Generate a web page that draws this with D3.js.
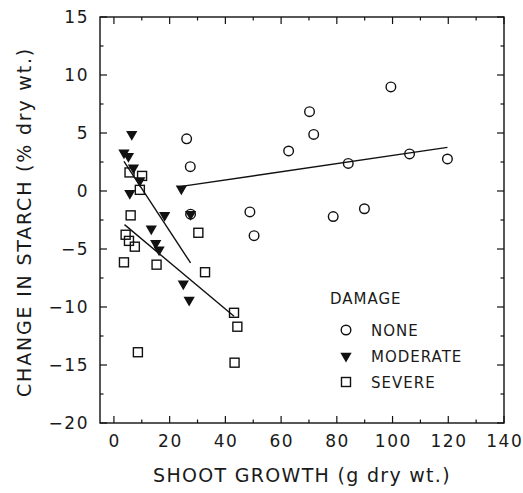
<!DOCTYPE html>
<html>
<head>
<meta charset="utf-8">
<script src="https://cdn.jsdelivr.net/npm/d3@7"></script>
<style>
  body { margin: 0; background: #fff; }
  text { font-family: "DejaVu Sans", sans-serif; fill: #1a1a1a; }
</style>
</head>
<body>
<svg id="chart"></svg>
<script>
// Data
const noneX = [26.1, 27.4, 27.5, 48.8, 50.3, 62.7, 70.2, 71.7, 78.7, 84.1, 89.9, 99.4, 106.1, 119.7];
const noneY = [4.5, 2.1, -2.0, -1.8, -3.85, 3.45, 6.84, 4.88, -2.2, 2.38, -1.53, 8.97, 3.2, 2.76];

const moderateX = [6.4, 3.6, 5.2, 7.0, 9.3, 5.7, 24.2, 18.2, 27.5, 13.4, 15.0, 16.2, 24.9, 27.0];
const moderateY = [4.9, 3.3, 3.0, 2.0, 0.9, -0.2, 0.2, -2.1, -2.0, -3.25, -4.5, -5.06, -8.0, -9.4];

const severeX = [5.6, 10.1, 9.3, 6.0, 4.2, 5.4, 7.5, 3.6, 15.3, 30.3, 32.7, 43.1, 44.3, 8.6, 43.3];
const severeY = [1.6, 1.3, 0.1, -2.1, -3.77, -4.3, -4.8, -6.15, -6.35, -3.6, -7.0, -10.5, -11.7, -13.9, -14.8];

// fitted lines: [x1, y1, x2, y2]
const noneFit = [24.2, 0.4, 119.7, 3.76];
const moderateFit = [3.6, 2.55, 27.5, -6.2];
const severeFit = [3.8, -2.9, 43.1, -10.8];

const xTicks = [0, 20, 40, 60, 80, 100, 120, 140];
const xMinor = [10, 30, 50, 70, 90, 110, 130];
const yTicks = [-20, -15, -10, -5, 0, 5, 10, 15];
const yMinor = [-17.5, -12.5, -7.5, -2.5, 2.5, 7.5, 12.5];

const legendLabels = ["NONE", "MODERATE", "SEVERE"];

let width = 523;
let height = 493;
let margin = { top: 17, right: 19, bottom: 70, left: 100 };

let svg = d3.select("#chart")
    .attr("width", width)
    .attr("height", height);

let xScale = d3.scaleLinear()
    .domain([-5, 140])
    .range([margin.left, width - margin.right]);

let yScale = d3.scaleLinear()
    .domain([-20, 15])
    .range([height - margin.bottom, margin.top]);

let x0 = margin.left, x1 = width - margin.right;
let y0 = height - margin.bottom, y1 = margin.top;

// frame
svg.append("rect")
    .attr("x", x0).attr("y", y1)
    .attr("width", x1 - x0).attr("height", y0 - y1)
    .attr("fill", "none").attr("stroke", "#111").attr("stroke-width", 1.4);

// inward ticks on all four sides
let tickG = svg.append("g").attr("stroke", "#111").attr("stroke-width", 1.2);
function xTick(v, len) {
    tickG.append("line").attr("x1", xScale(v)).attr("x2", xScale(v)).attr("y1", y0).attr("y2", y0 - len);
    tickG.append("line").attr("x1", xScale(v)).attr("x2", xScale(v)).attr("y1", y1).attr("y2", y1 + len);
}
function yTick(v, len) {
    tickG.append("line").attr("y1", yScale(v)).attr("y2", yScale(v)).attr("x1", x0).attr("x2", x0 + len);
    tickG.append("line").attr("y1", yScale(v)).attr("y2", yScale(v)).attr("x1", x1).attr("x2", x1 - len);
}
xTicks.forEach(v => xTick(v, 7));
xMinor.forEach(v => xTick(v, 3.5));
yTicks.forEach(v => yTick(v, 7));
yMinor.forEach(v => yTick(v, 3.5));

// tick labels
svg.append("g").selectAll("text")
    .data(xTicks)
    .enter().append("text")
    .attr("x", d => xScale(d) + 0.75)
    .attr("y", y0 + 24)
    .attr("text-anchor", "middle")
    .style("font-size", "17px")
    .style("letter-spacing", "1.5px")
    .text(d => d);

svg.append("g").selectAll("text")
    .data(yTicks)
    .enter().append("text")
    .attr("x", 89)
    .attr("y", d => yScale(d) + 6)
    .attr("text-anchor", "end")
    .style("font-size", "17px")
    .style("letter-spacing", "1.5px")
    .text(d => d < 0 ? "\u2212" + Math.abs(d) : d);

// axis titles
svg.append("text")
    .attr("x", (x0 + x1) / 2)
    .attr("y", 482)
    .attr("text-anchor", "middle")
    .style("font-size", "19px")
    .style("letter-spacing", "1.3px")
    .text("SHOOT GROWTH (g dry wt.)");

svg.append("text")
    .attr("transform", "translate(31, 222) rotate(-90)")
    .attr("text-anchor", "middle")
    .style("font-size", "19px")
    .style("letter-spacing", "1.8px")
    .text("CHANGE IN STARCH (% dry wt.)");

// fitted lines
[noneFit, moderateFit, severeFit].forEach(f => {
    svg.append("line")
        .attr("x1", xScale(f[0])).attr("y1", yScale(f[1]))
        .attr("x2", xScale(f[2])).attr("y2", yScale(f[3]))
        .attr("stroke", "#111").attr("stroke-width", 1.4);
});

// markers
let tri = d3.symbol().type(d3.symbolTriangle).size(55);
function drawCircle(g, x, y) {
    g.append("circle").attr("cx", x).attr("cy", y).attr("r", 4.8)
        .attr("fill", "none").attr("stroke", "#111").attr("stroke-width", 1.4);
}
function drawTri(g, x, y) {
    g.append("path").attr("d", tri)
        .attr("transform", `translate(${x},${y}) rotate(180)`)
        .attr("fill", "#111");
}
function drawSquare(g, x, y) {
    g.append("rect").attr("x", x - 4.5).attr("y", y - 4.5).attr("width", 9).attr("height", 9)
        .attr("fill", "none").attr("stroke", "#111").attr("stroke-width", 1.4);
}

let marks = svg.append("g");
severeX.forEach((x, i) => drawSquare(marks, xScale(x), yScale(severeY[i])));
noneX.forEach((x, i) => drawCircle(marks, xScale(x), yScale(noneY[i])));
moderateX.forEach((x, i) => drawTri(marks, xScale(x), yScale(moderateY[i])));

// legend
let lg = svg.append("g");
lg.append("text").attr("x", 330).attr("y", 304)
    .style("font-size", "15px").style("letter-spacing", "1px").text("DAMAGE");
let drawers = [drawCircle, drawTri, drawSquare];
legendLabels.forEach((lab, i) => {
    let cy = 330 + i * 26;
    drawers[i](lg, 346, cy);
    lg.append("text").attr("x", 371).attr("y", cy + 6)
        .style("font-size", "15px").style("letter-spacing", "1px").text(lab);
});
</script>
</body>
</html>
